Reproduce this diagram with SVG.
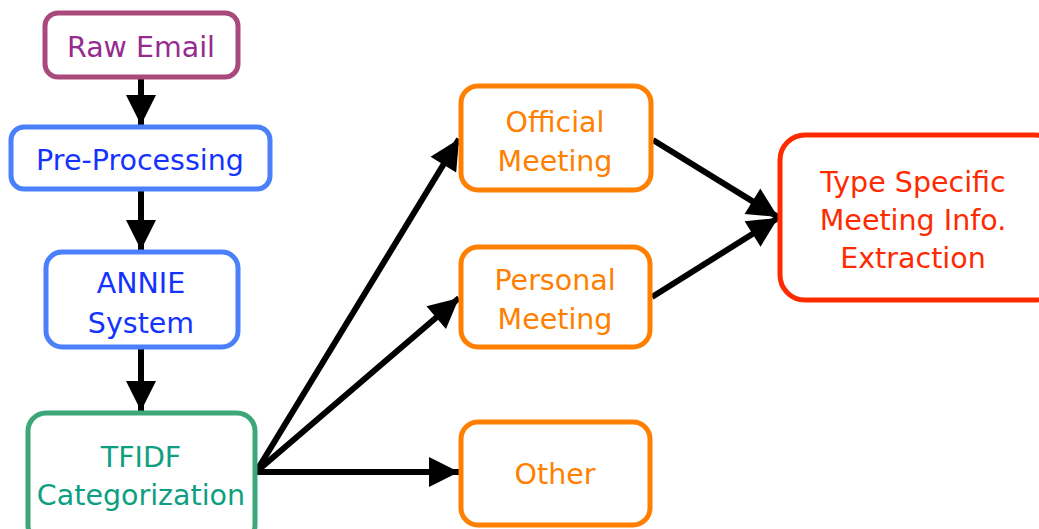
<svg xmlns="http://www.w3.org/2000/svg" width="1039" height="529" viewBox="0 0 1039 529">
<style>
.box{fill:#fff;stroke-width:5}
.t{font-family:"DejaVu Sans",sans-serif;font-size:28.5px;text-anchor:middle}
.c{stroke:#000;stroke-width:6;fill:none;marker-end:url(#ah)}
</style>
<defs>
<marker id="ah" markerUnits="userSpaceOnUse" markerWidth="34" markerHeight="34" viewBox="0 0 34 34" refX="31" refY="17" orient="auto">
<path d="M1,2 L31,17 L1,32 Z" fill="#000"/>
</marker>
</defs>
<rect width="1039" height="529" fill="#fff"/>
<g id="connectors">
<line class="c" x1="141" y1="78" x2="141" y2="125"/>
<line class="c" x1="141" y1="190" x2="141" y2="250"/>
<line class="c" x1="141" y1="348" x2="141" y2="411"/>
<line class="c" x1="256" y1="472" x2="459" y2="139"/>
<line class="c" x1="256" y1="472" x2="459" y2="298"/>
<line class="c" x1="256" y1="472" x2="459" y2="472"/>
<line class="c" x1="653" y1="140" x2="778" y2="217"/>
<line class="c" x1="652" y1="297" x2="778" y2="218"/>
</g>
<g id="raw-email">
<rect class="box" x="45" y="13" width="193" height="64" rx="13" stroke="#a94a7c"/>
<text class="t" x="141" y="57" fill="#962b8f">Raw Email</text>
</g>
<g id="pre-processing">
<rect class="box" x="11" y="127" width="259" height="62" rx="13" stroke="#4b80fb"/>
<text class="t" x="140" y="170" fill="#1533ff">Pre-Processing</text>
</g>
<g id="annie">
<rect class="box" x="46" y="252" width="192" height="95" rx="16" stroke="#4b80fb"/>
<text class="t" x="141" y="293" fill="#1533ff">ANNIE</text>
<text class="t" x="141" y="333" fill="#1533ff">System</text>
</g>
<g id="tfidf">
<rect class="box" x="28" y="413" width="227" height="130" rx="18" stroke="#3da77a"/>
<text class="t" x="141" y="467" fill="#0e9f82">TFIDF</text>
<text class="t" x="141" y="505" fill="#0e9f82">Categorization</text>
</g>
<g id="official">
<rect class="box" x="461" y="86" width="190" height="104" rx="17" stroke="#ff8000"/>
<text class="t" x="555" y="132" fill="#ff8000">Official</text>
<text class="t" x="555" y="171" fill="#ff8000">Meeting</text>
</g>
<g id="personal">
<rect class="box" x="461" y="247" width="189" height="100" rx="17" stroke="#ff8000"/>
<text class="t" x="555" y="290" fill="#ff8000">Personal</text>
<text class="t" x="555" y="329" fill="#ff8000">Meeting</text>
</g>
<g id="other">
<rect class="box" x="461" y="422" width="189" height="103" rx="17" stroke="#ff8000"/>
<text class="t" x="555" y="484" fill="#ff8000">Other</text>
</g>
<g id="type-specific">
<rect class="box" x="780" y="135" width="280" height="165" rx="25" stroke="#ff2a00"/>
<text class="t" x="913" y="192" fill="#ff2a00">Type Specific</text>
<text class="t" x="913" y="230" fill="#ff2a00">Meeting Info.</text>
<text class="t" x="913" y="268" fill="#ff2a00">Extraction</text>
</g>
</svg>
